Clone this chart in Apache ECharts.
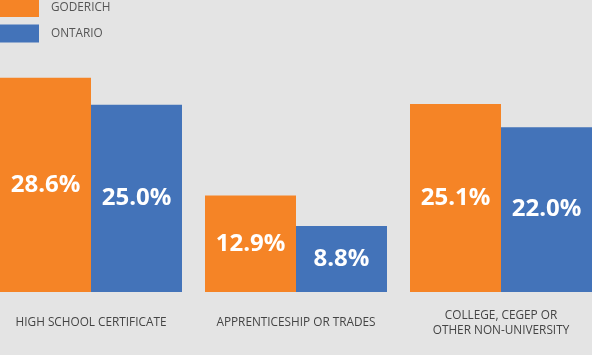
<!DOCTYPE html>
<html><head><meta charset="utf-8">
<script src="https://cdn.jsdelivr.net/npm/echarts@6/dist/echarts.min.js"></script>
<style>html,body{margin:0;padding:0;background:#e4e4e4;}#c{width:592px;height:355px;}</style>
</head><body><div id="c"></div>
<script>
var categories = ['HIGH SCHOOL CERTIFICATE', 'APPRENTICESHIP OR TRADES', 'COLLEGE, CEGEP OR\nOTHER NON-UNIVERSITY'];
var goderich = [28.6, 12.9, 25.1];
var ontario = [25.0, 8.8, 22.0];
var seriesNames = ['GODERICH', 'ONTARIO'];

var chart = echarts.init(document.getElementById('c'));
var labelStyle = {
  show: true, position: 'inside', color: '#ffffff', fontFamily: 'Open Sans', fontWeight: 'bold', fontSize: 24,
  formatter: function (p) { return p.value.toFixed(1) + '%'; }
};
chart.setOption({
  backgroundColor: '#e4e4e4',
  animation: false,
  legend: {
    orient: 'vertical', left: 0, top: -1, padding: 0, itemWidth: 39, itemHeight: 18, itemGap: 7.6,
    icon: 'rect',
    textStyle: { color: '#555', fontFamily: 'Open Sans', fontSize: 11.8, padding: [0, 0, 0, 7] },
    data: seriesNames
  },
  grid: { left: -11.5, width: 615, top: 0, height: 292, outerBoundsMode: 'none', containLabel: false },
  xAxis: {
    type: 'category', data: categories,
    axisLine: { show: false }, axisTick: { show: false },
    axisLabel: { color: '#444', fontFamily: 'Open Sans', fontSize: 11.8, lineHeight: 15, margin: 31, verticalAlign: 'middle', interval: 0 }
  },
  yAxis: { type: 'value', min: 0, max: 39, show: false, splitLine: { show: false } },
  series: [
    { name: seriesNames[0], type: 'bar', data: goderich, barWidth: 91, barGap: '0%', itemStyle: { color: '#f58426' }, label: labelStyle },
    { name: seriesNames[1], type: 'bar', data: ontario, barWidth: 91, barGap: '0%', itemStyle: { color: '#4373b9' }, label: labelStyle }
  ]
});
</script></body></html>
